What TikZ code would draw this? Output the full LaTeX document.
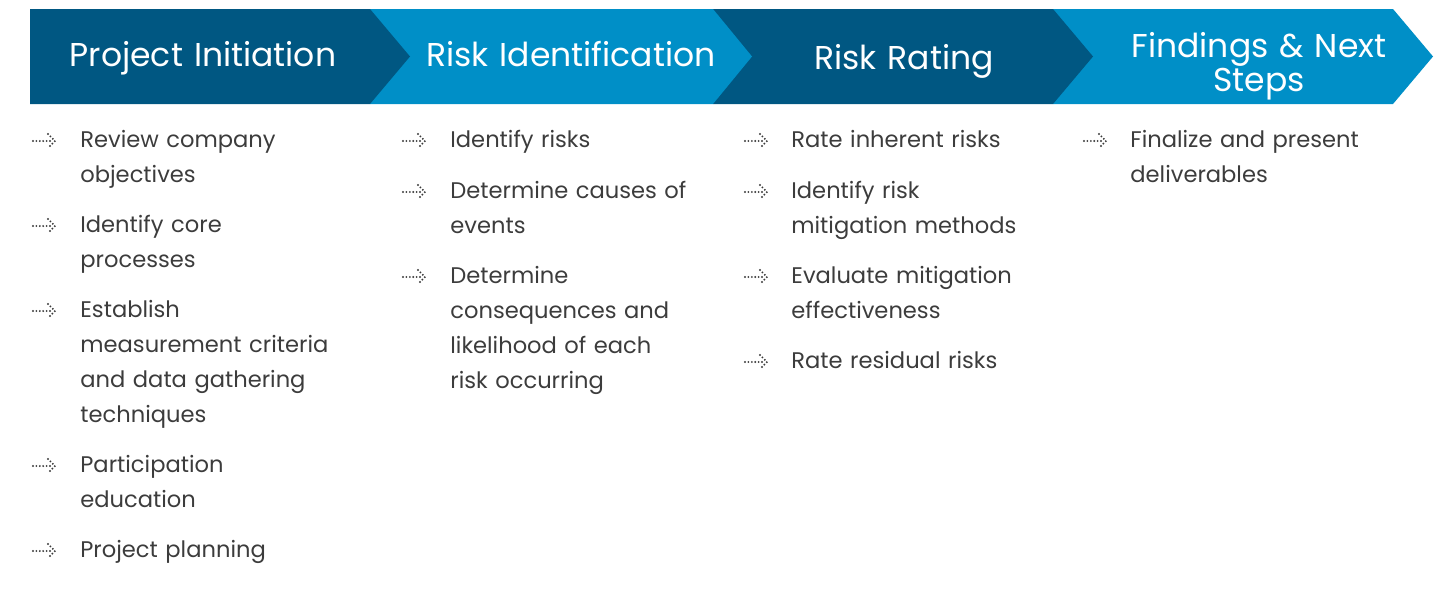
\documentclass[tikz,border=0pt]{standalone}
\usepackage{fontspec}
\setmainfont{Poppins}
\usetikzlibrary{positioning}

\definecolor{darkstage}{HTML}{005782}
\definecolor{lightstage}{HTML}{008FC7}
\definecolor{bodytext}{HTML}{3C3C3C}

\tikzset{
  stage/.style={fill=#1, draw=none},
  title/.style={anchor=north, text width=180pt, align=center, inner sep=0, text=white,
    font=\fontsize{16.5}{17.2}\selectfont, execute at begin node=\strut},
  item/.style={anchor=north west, text width=170pt, align=left, inner sep=0, text=bodytext,
    font=\fontsize{11.3}{17.5}\selectfont, execute at begin node=\strut},
  pics/bullet/.style={code={
    \draw[bodytext, line width=1.05pt, line cap=round, dash pattern=on 0pt off 1.7pt]
      (-22,0) -- (-3,0) (-7,-7) -- (0,0) -- (-7,7);
  }}
}

\begin{document}
\begin{tikzpicture}[x=0.5pt, y=-0.5pt]
\useasboundingbox (0,0) rectangle (1440,594);

% the four stages, right one first so each tip lies over the next
\fill [stage=lightstage] (1053,9) -- (1393,9) -- (1433,56.5) -- (1393,104) -- (1053,104) -- cycle;
\fill [stage=darkstage] (713,9) -- (1053,9) -- (1093,56.5) -- (1053,104) -- (713,104) -- cycle;
\fill [stage=lightstage] (370,9) -- (713,9) -- (752,56.5) -- (713,104) -- (370,104) -- cycle;
\fill [stage=darkstage] (30,9) -- (370,9) -- (410,56.5) -- (370,104) -- (30,104) -- cycle;

% strut top sits 24px above the first baseline
\node [title] (init) at (203,41) {Project Initiation};
\node [title] (ident) at (571,41) {Risk Identification};
\node [title] (rating) at (904,44) {Risk Rating};
\node [title] (findings) at (1259,32) {Findings \& Next\\Steps};

% project initiation
\pic at (55,141) {bullet};
\node [item] (init1) at (80,122.5) {Review company\\objectives};
\pic at (55,226) {bullet};
\node [item] (init2) at (80,207.5) {Identify core\\processes};
\pic at (55,311) {bullet};
\node [item] (init3) at (80,292.5) {Establish\\measurement criteria\\and data gathering\\techniques};
\pic at (55,466) {bullet};
\node [item] (init4) at (80,447.5) {Participation\\education};
\pic at (55,551) {bullet};
\node [item] (init5) at (80,532.5) {Project planning};

% risk identification
\pic at (425,141) {bullet};
\node [item] (ident1) at (450,122.5) {Identify risks};
\pic at (425,192) {bullet};
\node [item] (ident2) at (450,173.5) {Determine causes of\\events};
\pic at (425,277) {bullet};
\node [item] (ident3) at (450,258.5) {Determine\\consequences and\\likelihood of each\\risk occurring};

% risk rating
\pic at (767,141) {bullet};
\node [item] (rating1) at (791,122.5) {Rate inherent risks};
\pic at (767,192) {bullet};
\node [item] (rating2) at (791,173.5) {Identify risk\\mitigation methods};
\pic at (767,277) {bullet};
\node [item] (rating3) at (791,258.5) {Evaluate mitigation\\effectiveness};
\pic at (767,362) {bullet};
\node [item] (rating4) at (791,343.5) {Rate residual risks};

% findings
\pic at (1106,141) {bullet};
\node [item] (findings1) at (1130,122.5) {Finalize and present\\deliverables};

\end{tikzpicture}
\end{document}
